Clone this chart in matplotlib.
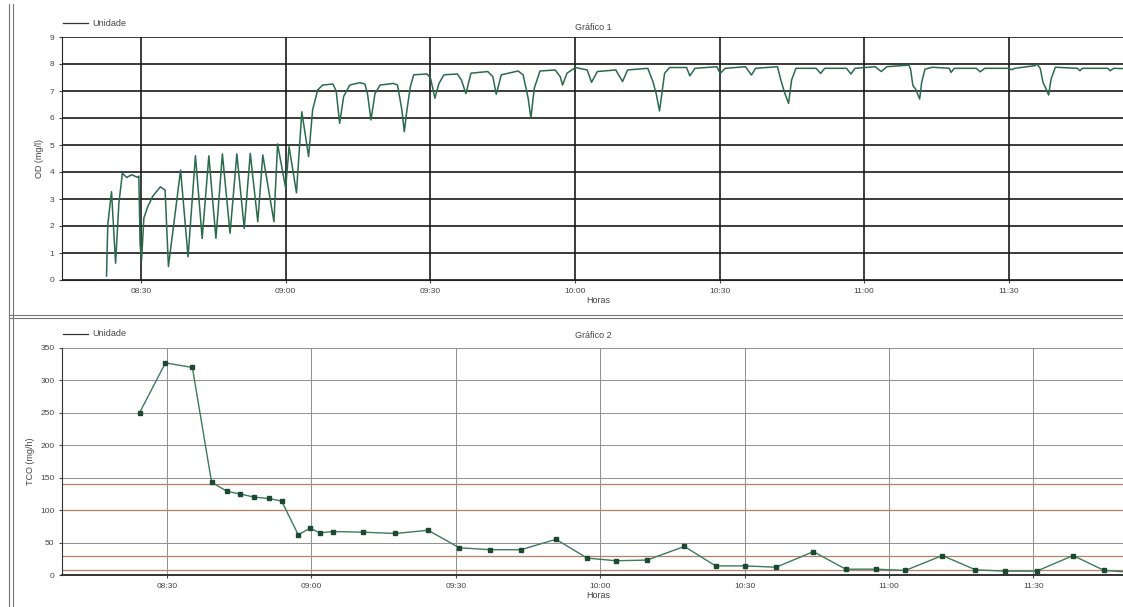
import matplotlib.pyplot as plt
import matplotlib.dates as mdates
import numpy as np
import pandas as pd
from matplotlib.lines import Line2D

plt.rcParams['font.family'] = ['Liberation Sans', 'DejaVu Sans']

# Gráfico 1: oxigênio dissolvido (minutos após 08:00, mg/l)
od_min = [22.88, 23.15, 23.92, 24.76, 25.45, 26.17, 27.07, 28.11, 29.31, 29.58,
          29.85, 30.15, 30.63, 31.40, 32.45, 34.04, 35.03, 35.72, 38.24, 39.79,
          41.32, 42.72, 44.10, 45.57, 46.91, 48.50, 49.91, 51.44, 52.69, 54.25,
          55.29, 57.60, 58.35, 60.03, 60.74, 62.27, 63.38, 64.79, 65.62, 66.67,
          67.72, 69.82, 70.51, 71.22, 72.06, 73.32, 75.41, 76.46, 77.00, 77.72,
          78.55, 79.60, 82.39, 83.23, 84.13, 84.63, 85.18, 85.89, 86.58, 89.37,
          90.08, 90.98, 91.82, 92.87, 95.65, 96.49, 97.41, 98.46, 101.94, 102.99,
          103.70, 104.75, 108.23, 109.27, 110.32, 110.89, 111.58, 112.77, 115.92, 116.97,
          117.45, 118.37, 120.11, 122.56, 123.46, 124.66, 128.49, 129.89, 130.94, 135.13,
          136.18, 136.87, 137.56, 138.61, 139.66, 143.16, 143.85, 144.90, 149.45, 150.14,
          151.19, 155.38, 156.63, 157.47, 162.02, 162.71, 163.55, 164.32, 164.95, 165.85,
          170.04, 170.97, 171.80, 176.33, 177.25, 178.09, 182.28, 183.54, 184.71, 189.26,
          189.62, 190.10, 190.67, 191.50, 191.92, 192.61, 194.14, 197.64, 198.00, 198.69,
          203.24, 204.08, 204.98, 209.86, 210.58, 211.27, 215.46, 215.82, 216.51, 217.08,
          217.77, 218.25, 218.75, 219.65, 224.20, 224.74, 225.24, 230.48, 231.02, 231.74,
          236.00]
od_val = [0.15, 2.07, 3.27, 0.62, 2.85, 3.95, 3.80, 3.90, 3.80, 3.85,
          1.30, 0.74, 2.30, 2.70, 3.10, 3.45, 3.33, 0.50, 4.07, 0.86,
          4.60, 1.54, 4.60, 1.54, 4.67, 1.73, 4.67, 1.91, 4.69, 2.16,
          4.63, 2.16, 5.04, 3.40, 4.94, 3.23, 6.23, 4.57, 6.30, 7.04,
          7.22, 7.26, 7.00, 5.80, 6.80, 7.22, 7.31, 7.26, 6.90, 5.93,
          6.90, 7.22, 7.28, 7.22, 6.30, 5.49, 6.30, 7.16, 7.60, 7.63,
          7.47, 6.73, 7.28, 7.60, 7.63, 7.40, 6.90, 7.66, 7.72, 7.53,
          6.88, 7.60, 7.74, 7.60, 6.73, 5.99, 7.10, 7.74, 7.78, 7.53,
          7.22, 7.66, 7.87, 7.78, 7.32, 7.72, 7.78, 7.35, 7.78, 7.84,
          7.35, 6.90, 6.26, 7.66, 7.87, 7.87, 7.56, 7.84, 7.90, 7.65,
          7.84, 7.90, 7.59, 7.84, 7.90, 7.41, 6.91, 6.54, 7.41, 7.84,
          7.84, 7.65, 7.84, 7.84, 7.63, 7.84, 7.90, 7.72, 7.90, 7.96,
          7.81, 7.20, 7.07, 6.70, 7.32, 7.81, 7.88, 7.84, 7.69, 7.84,
          7.84, 7.71, 7.84, 7.84, 7.79, 7.84, 7.94, 8.00, 7.84, 7.32,
          7.06, 6.85, 7.44, 7.88, 7.84, 7.75, 7.84, 7.84, 7.75, 7.84,
          7.82]

# Gráfico 2: taxa de consumo de oxigênio (minutos após 08:00, mg/h)
tco_min = [24.26, 29.64, 35.25, 39.24, 42.46, 45.13, 48.13, 51.07, 53.80, 57.25,
           59.68, 61.79, 64.45, 70.76, 77.42, 84.26, 90.71, 97.16, 103.53, 110.82,
           117.33, 123.28, 129.73, 137.50, 144.01, 150.10, 156.58, 164.31, 171.03, 177.33,
           183.42, 191.13, 198.00, 204.10, 210.74, 218.30, 224.75, 230.69]
tco_val = [250, 327, 320, 143, 129, 125, 120, 118, 114, 62,
           72, 65, 67, 66, 64, 69, 42, 39, 39, 55,
           26, 22, 23, 44, 14, 14, 12, 36, 9, 9,
           7, 30, 8, 6, 6, 30, 7, 4]
tco_limites = [140, 100, 30, 8]

base = pd.Timestamp("2011-01-01 08:00")


def horas(m):
    return base + pd.to_timedelta(np.asarray(m, dtype=float), unit="m")


W, H = 1123, 607
fig = plt.figure(figsize=(W / 100, H / 100), dpi=100)
fig.patch.set_facecolor("white")

txt = "#444444"
fmt = mdates.DateFormatter("%H:%M")
loc30 = mdates.MinuteLocator(byminute=[0, 30])

# ---- Gráfico 1
ax1 = fig.add_axes([62 / W, 1 - 280 / H, (W - 62) / W + 0.01, 243 / H])
ax1.plot(horas(od_min), od_val, color="#2a6b4c", lw=1.1)
ax1.set_ylim(0, 9)
ax1.set_yticks(range(10))
ax1.set_xlim(horas(13.65), horas(236.0))
ax1.xaxis.set_major_locator(loc30)
ax1.xaxis.set_major_formatter(fmt)
ax1.grid(True, color="#1a1a1a", lw=1.2)
ax1.set_axisbelow(True)
for s in ["top", "right"]:
    ax1.spines[s].set_visible(False)
ax1.spines["left"].set_color("#222222")
ax1.spines["bottom"].set_color("#222222")
ax1.tick_params(labelsize=6, colors=txt, length=2)
ax1.set_ylabel("OD (mg/l)", fontsize=6.5, color=txt, labelpad=4)
ax1.set_xlabel("Horas", fontsize=6.5, color=txt, labelpad=1)

# ---- Gráfico 2
ax2 = fig.add_axes([62 / W, 1 - 575 / H, (W - 62) / W + 0.01, 227 / H])
for v in tco_limites:
    ax2.axhline(v, color="#b3806a", lw=0.9, zorder=1)
ax2.plot(horas(tco_min), tco_val, color="#3e7a5e", lw=1.0, marker="s",
         ms=3.3, mfc="#1c4a30", mec="#1c4a30", zorder=3)
ax2.set_ylim(0, 350)
ax2.set_yticks(range(0, 351, 50))
ax2.set_xlim(horas(8.15), horas(231.0))
ax2.xaxis.set_major_locator(loc30)
ax2.xaxis.set_major_formatter(fmt)
ax2.grid(True, color="#8f8f8f", lw=0.7)
ax2.set_axisbelow(True)
for s in ["top", "right"]:
    ax2.spines[s].set_visible(False)
ax2.spines["left"].set_color("#333333")
ax2.spines["bottom"].set_color("#333333")
ax2.spines["bottom"].set_linewidth(1.4)
ax2.tick_params(labelsize=6, colors=txt, length=2)
ax2.set_ylabel("TCO (mg/h)", fontsize=6.5, color=txt, labelpad=4)
ax2.set_xlabel("Horas", fontsize=6.5, color=txt, labelpad=1)

# títulos e legendas
fig.text(593 / W, 1 - 27 / H, "Gráfico 1", ha="center", va="center", fontsize=6.5, color=txt)
fig.text(593 / W, 1 - 336 / H, "Gráfico 2", ha="center", va="center", fontsize=6.5, color=txt)
for y in (23, 334):
    fig.add_artist(Line2D([63 / W, 88 / W], [1 - y / H] * 2, color="#333333", lw=0.9))
    fig.text(92 / W, 1 - y / H, "Unidade", ha="left", va="center", fontsize=6.5, color=txt)

# moldura dos painéis
for x in (9, 13):
    fig.add_artist(Line2D([x / W] * 2, [0, 1 - 4 / H], color="#777777", lw=0.8))
for y in (315, 318):
    fig.add_artist(Line2D([9 / W, 1], [1 - y / H] * 2, color="#777777", lw=0.8))

fig.savefig("out.png", dpi=100, facecolor="white")
